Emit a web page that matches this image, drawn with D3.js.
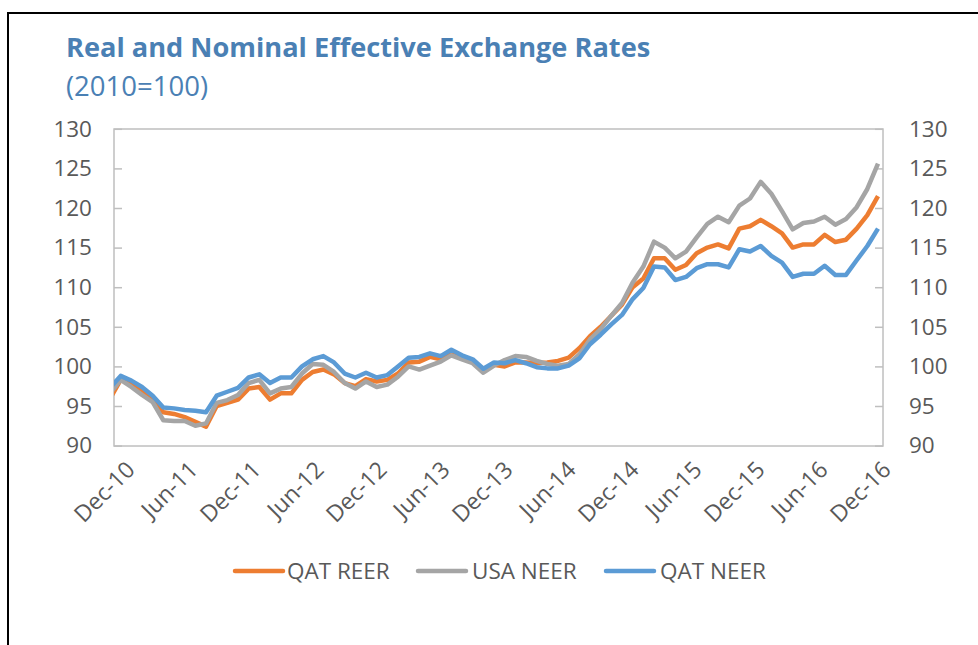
<!DOCTYPE html>
<html>
<head>
<meta charset="utf-8">
<script src="https://cdn.jsdelivr.net/npm/d3@7"></script>
<style>
  html, body { margin: 0; padding: 0; background: #ffffff; }
  svg { display: block; }
</style>
</head>
<body>
<svg id="chart" width="978" height="645"></svg>
<script>
// Monthly index values, Dec-2010 .. Dec-2016 (2010 = 100)
const months = d3.timeMonth.range(new Date(2010, 11, 1), new Date(2017, 0, 1))
  .map(d3.timeFormat("%b-%y"));

const qatReer = [
  95.9, 98.3, 97.9, 97.0, 96.0, 94.2, 94.0, 93.6, 93.0, 92.4, 95.0, 95.4, 95.8,
  97.2, 97.4, 95.8, 96.6, 96.6, 98.3, 99.3, 99.6, 99.0, 97.9, 97.5, 98.4,
  98.1, 98.3, 99.1, 100.5, 100.6, 101.2, 100.9, 101.6, 101.2, 100.6, 99.5, 100.2,
  100.0, 100.5, 100.5, 100.4, 100.5, 100.7, 101.1, 102.3, 103.8, 105.0, 106.4, 107.8,
  110.0, 111.1, 113.65, 113.65, 112.2, 112.8, 114.3, 115.0, 115.4, 114.9, 117.4, 117.7,
  118.5, 117.7, 116.8, 115.0, 115.4, 115.4, 116.6, 115.7, 116.0, 117.4, 119.1, 121.5
];

const usaNeer = [
  96.6, 98.3, 97.4, 96.4, 95.5, 93.2, 93.1, 93.1, 92.5, 92.8, 95.4, 95.75, 96.4,
  97.9, 98.3, 96.6, 97.2, 97.4, 99.1, 100.3, 100.2, 99.3, 97.9, 97.2, 98.1,
  97.4, 97.7, 98.7, 100.0, 99.6, 100.1, 100.6, 101.4, 100.9, 100.4, 99.2, 100.1,
  100.8, 101.3, 101.2, 100.7, 100.3, 100.1, 100.3, 101.5, 103.4, 104.7, 106.4, 108.0,
  110.6, 112.6, 115.75, 115.0, 113.65, 114.5, 116.3, 118.0, 118.9, 118.2, 120.3, 121.2,
  123.3, 121.8, 119.6, 117.3, 118.1, 118.3, 118.9, 117.9, 118.6, 120.1, 122.4, 125.6
];

const qatNeer = [
  97.3, 98.8, 98.2, 97.4, 96.3, 94.8, 94.7, 94.5, 94.4, 94.2, 96.3, 96.8, 97.3,
  98.6, 99.0, 97.9, 98.6, 98.6, 100.0, 100.9, 101.3, 100.5, 99.1, 98.6, 99.2,
  98.6, 98.9, 100.0, 101.1, 101.2, 101.65, 101.3, 102.1, 101.4, 100.9, 99.7, 100.5,
  100.4, 100.8, 100.4, 99.9, 99.75, 99.75, 100.1, 101.0, 102.8, 104.0, 105.3, 106.5,
  108.5, 109.9, 112.6, 112.5, 110.9, 111.3, 112.4, 112.9, 112.9, 112.5, 114.8, 114.5,
  115.2, 113.95, 113.1, 111.3, 111.7, 111.7, 112.7, 111.55, 111.55, 113.4, 115.2, 117.4
];

const seriesNames = ["QAT REER", "USA NEER", "QAT NEER"];
const seriesColors = ["#ED7D31", "#A5A5A5", "#5B9BD5"];
const yTicks = [90, 95, 100, 105, 110, 115, 120, 125, 130];
const xTickLabels = ["Dec-10", "Jun-11", "Dec-11", "Jun-12", "Dec-12", "Jun-13", "Dec-13",
                     "Jun-14", "Dec-14", "Jun-15", "Dec-15", "Jun-16", "Dec-16"];

const series = [qatReer, usaNeer, qatNeer].map((values, k) => ({
  name: seriesNames[k], color: seriesColors[k], values
}));

const svg = d3.select("#chart");
const uiFont = "'Open Sans', 'Segoe UI', sans-serif";

// page frame
svg.append("path")
  .attr("d", "M8,645 V13 H978")
  .attr("fill", "none").attr("stroke", "#000").attr("stroke-width", 2);

// title
svg.append("text")
  .attr("x", 66).attr("y", 57)
  .attr("font-family", uiFont).attr("font-weight", 700).attr("font-size", 27.2)
  .attr("fill", "#4A80B4")
  .text("Real and Nominal Effective Exchange Rates");
svg.append("text")
  .attr("x", 66).attr("y", 96)
  .attr("font-family", uiFont).attr("font-size", 27.5)
  .attr("fill", "#4A80B4")
  .text("(2010=100)");

// plot area
const plot = { left: 114, right: 883, top: 129, bottom: 446 };

const x = d3.scalePoint().domain(months).range([110, 878]);
const xLabel = d3.scalePoint().domain(months).range([112, 868]);
const y = d3.scaleLinear().domain([90, 130]).range([445.6, 128.8]);

svg.append("defs").append("clipPath").attr("id", "plotClip")
  .append("rect")
  .attr("x", plot.left).attr("y", plot.top - 10)
  .attr("width", plot.right - plot.left).attr("height", plot.bottom - plot.top + 20);

svg.append("rect")
  .attr("x", plot.left).attr("y", plot.top)
  .attr("width", plot.right - plot.left).attr("height", plot.bottom - plot.top)
  .attr("fill", "none").attr("stroke", "#BFBFBF").attr("stroke-width", 1.5);

// value axes on both sides, ticks pointing inward
function styleAxis(g) {
  g.select(".domain").remove();
  g.selectAll(".tick line").attr("stroke", "#BFBFBF").attr("stroke-width", 1.5);
  g.selectAll(".tick text")
    .attr("fill", "#595959")
    .attr("font-family", uiFont)
    .attr("font-size", 22.5);
}

svg.append("g")
  .attr("transform", `translate(${plot.left},0)`)
  .call(d3.axisLeft(y).tickValues(yTicks).tickSize(-8).tickPadding(22))
  .call(styleAxis);

svg.append("g")
  .attr("transform", `translate(${plot.right},0)`)
  .call(d3.axisRight(y).tickValues(yTicks).tickSize(-8).tickPadding(26))
  .call(styleAxis);

// category labels every six months, rotated
const labelG = svg.append("g");
xTickLabels.forEach(lbl => {
  const px = xLabel(lbl);
  labelG.append("text")
    .attr("transform", `translate(${px + 12},${459}) rotate(-45)`)
    .attr("text-anchor", "end")
    .attr("dy", "0.75em")
    .attr("font-family", uiFont)
    .attr("font-size", 23)
    .attr("fill", "#595959")
    .text(lbl);
});

// series lines
const line = d3.line()
  .x((d, i) => x(months[i]))
  .y(d => y(d))
  .curve(d3.curveLinear);

const linesG = svg.append("g").attr("clip-path", "url(#plotClip)");
series.forEach(s => {
  linesG.append("path")
    .datum(s.values)
    .attr("d", line)
    .attr("fill", "none")
    .attr("stroke", s.color)
    .attr("stroke-width", 4.5)
    .attr("stroke-linejoin", "round")
    .attr("stroke-linecap", "butt");
});

// legend
const legendItems = [
  { x: 235, textX: 287 },
  { x: 418, textX: 472 },
  { x: 606, textX: 660 }
];
const legend = svg.append("g");
series.forEach((s, k) => {
  const it = legendItems[k];
  legend.append("line")
    .attr("x1", it.x).attr("x2", it.x + 48)
    .attr("y1", 571).attr("y2", 571)
    .attr("stroke", s.color).attr("stroke-width", 4.5)
    .attr("stroke-linecap", "round");
  legend.append("text")
    .attr("x", it.textX).attr("y", 571).attr("dy", "0.36em")
    .attr("font-family", uiFont)
    .attr("font-size", 22.5)
    .attr("fill", "#595959")
    .text(s.name);
});
</script>
</body>
</html>
